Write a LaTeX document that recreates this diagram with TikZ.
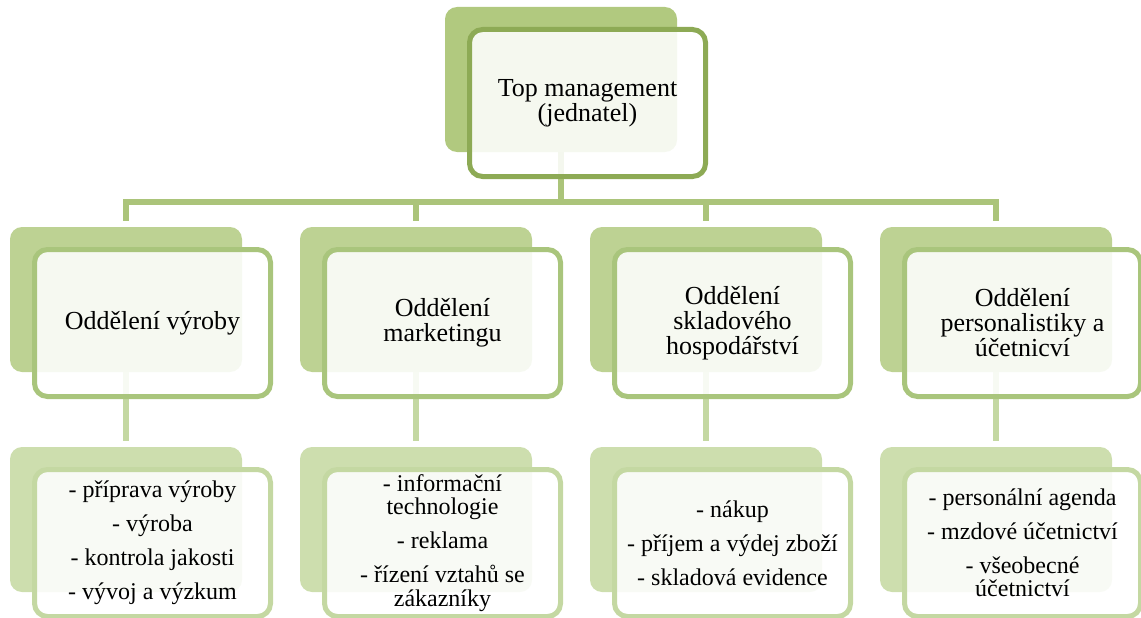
\documentclass[tikz,border=0pt]{standalone}
\usepackage{fontspec}
\setmainfont{Liberation Serif}
\definecolor{backA}{HTML}{B1C97F}
\definecolor{lineA}{HTML}{8DAA55}
\definecolor{backB}{HTML}{BDD293}
\definecolor{lineB}{HTML}{A9C57C}
\definecolor{backC}{HTML}{CDDEAE}
\definecolor{lineC}{HTML}{C4D8A2}
\definecolor{busline}{HTML}{ABC47A}
\tikzset{
  backbox/.style={rectangle, rounded corners=12pt, inner sep=0pt,
    minimum width=232pt, minimum height=145pt, draw=none},
  frontbox/.style={rectangle, rounded corners=13pt, inner sep=0pt,
    minimum width=236pt, minimum height=147pt, line width=5pt,
    fill=white, fill opacity=0.88, draw opacity=1, text opacity=1,
    align=center, text=black},
  headtext/.style={font=\fontsize{26}{25}\selectfont},
  itemtext/.style={font=\fontsize{24}{23.5}\selectfont},
  linkA/.style={draw=busline, line width=5.5pt},
  linkC/.style={draw=lineC, line width=5.5pt, shorten >=6pt},
}
\begin{document}
\begin{tikzpicture}[x=1pt, y=-1pt]
\useasboundingbox (0,0) rectangle (1141,618);

% back plates
\node[backbox, fill=backA] (tb) at (561,79.5) {};
\foreach \k in {1,...,4}{
  \node[backbox, fill=backB] (mb\k) at ({126+290*(\k-1)},299.5) {};
  \node[backbox, fill=backC] (lb\k) at ({126+290*(\k-1)},519.5) {};
}

% connectors
\coordinate (bus) at (561,202);
\draw[linkA] (tb.south) -- (tb.south |- bus);
\draw[linkA, line cap=rect] (mb1.north |- bus) -- (mb4.north |- bus);
\foreach \k in {1,...,4}{
  \draw[linkA, shorten >=6pt] (mb\k.north |- bus) -- (mb\k.north);
  \draw[linkC] (mb\k.south) -- (lb\k.north);
}

% front boxes
\node[frontbox, draw=lineA, headtext] (top) at (587.5,103)
  {Top management\\(jednatel)};

\node[frontbox, draw=lineB, headtext] (m1) at (152.5,323) {Oddělení výroby};
\node[frontbox, draw=lineB, headtext] (m2) at (442.5,323) {Oddělení\\marketingu};
\node[frontbox, draw=lineB, headtext] (m3) at (732.5,323)
  {Oddělení\\skladového\\hospodářství};
\node[frontbox, draw=lineB, headtext] (m4) at (1022.5,323)
  {Oddělení\\personalistiky a\\účetnicví};

\node[frontbox, draw=lineC, itemtext] (l1) at (152.5,543)
  {- příprava výroby\\[10.5pt]- výroba\\[10.5pt]- kontrola jakosti\\[10.5pt]- vývoj a výzkum};
\node[frontbox, draw=lineC, itemtext] (l2) at (442.5,543)
  {- informační\\technologie\\[10.5pt]- reklama\\[10.5pt]- řízení vztahů se\\zákazníky};
\node[frontbox, draw=lineC, itemtext] (l3) at (732.5,543)
  {- nákup\\[10.5pt]- příjem a výdej zboží\\[10.5pt]- skladová evidence};
\node[frontbox, draw=lineC, itemtext] (l4) at (1022.5,543)
  {- personální agenda\\[10.5pt]- mzdové účetnictví\\[10.5pt]- všeobecné\\účetnictví};
\end{tikzpicture}
\end{document}
